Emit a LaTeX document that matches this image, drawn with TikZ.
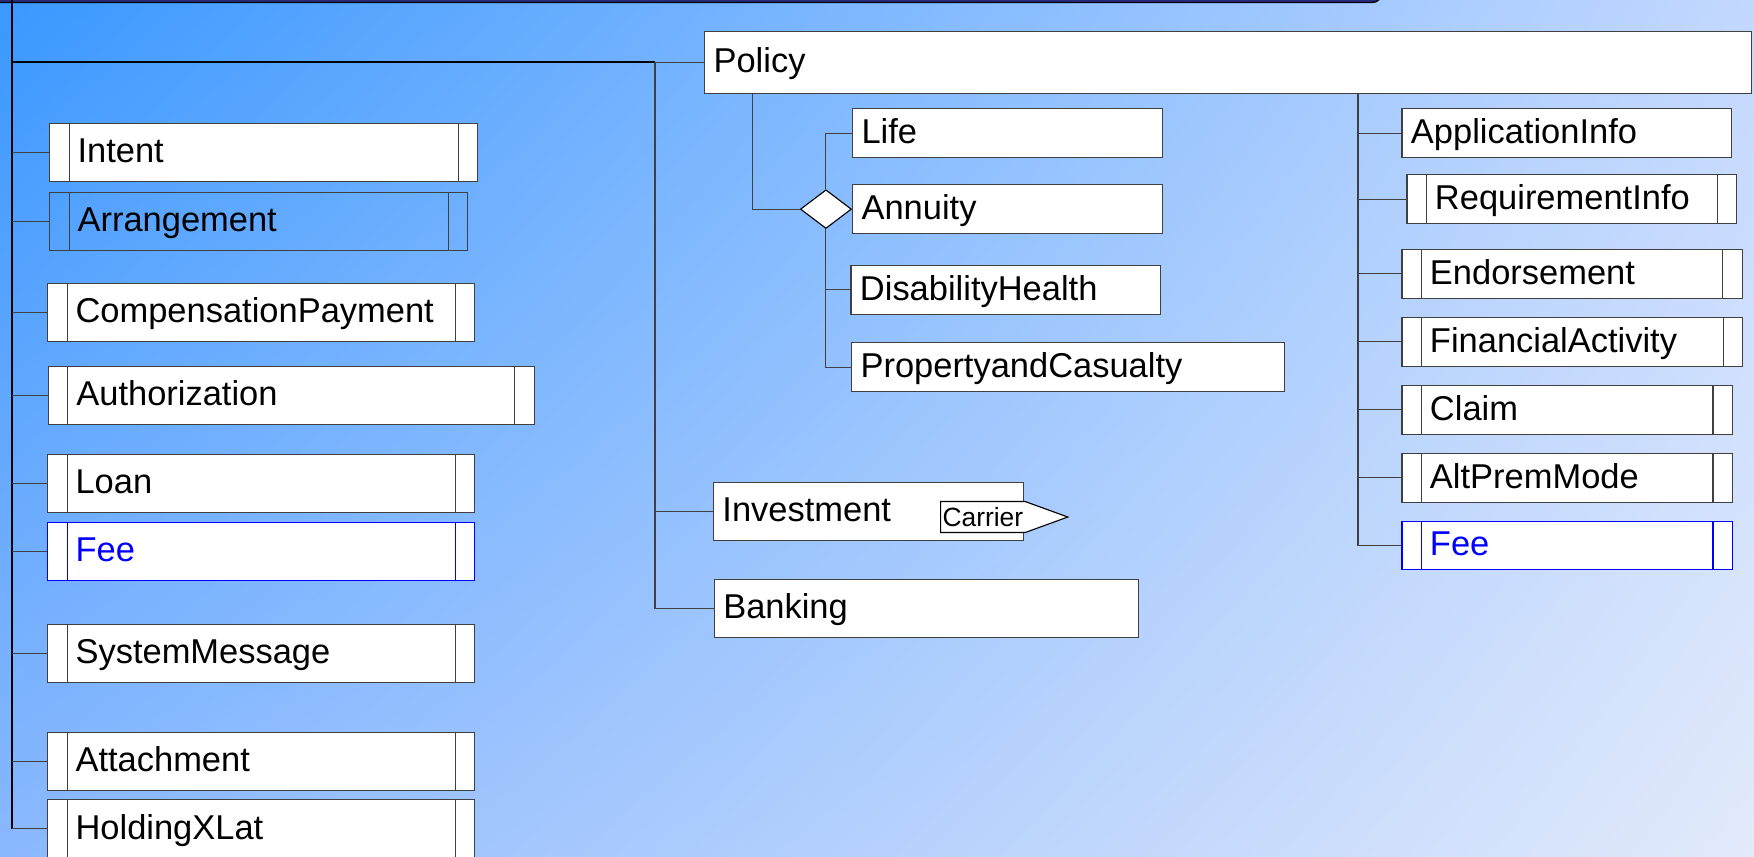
\documentclass[tikz,border=0pt]{standalone}
\usepackage{fontspec}
\setmainfont{Liberation Sans}
\usetikzlibrary{positioning, shapes.geometric, shapes.symbols, shadings, calc}
\definecolor{boxline}{RGB}{64,64,64}
\definecolor{feeblue}{RGB}{0,0,255}
\definecolor{bgtl}{RGB}{58,152,255}
\definecolor{bgtr}{RGB}{195,216,255}
\definecolor{bgbl}{RGB}{138,184,255}
\definecolor{bgbr}{RGB}{226,234,251}
\definecolor{barnavy}{RGB}{42,42,122}
\tikzset{ent/.style={draw=boxline,fill=white,line width=0.32pt,anchor=north west,inner ysep=0pt,inner xsep=0.09cm,text height=0.248cm,text depth=0.045cm,align=left,text width=#1,font=\fontsize{9.8}{12}\selectfont}}
\tikzset{bars/.style={inner xsep=0.28cm,path picture={
  \draw[#1,line width=0.32pt] ([xshift=0.195cm]path picture bounding box.north west) -- ([xshift=0.195cm]path picture bounding box.south west)
    ([xshift=-0.195cm]path picture bounding box.north east) -- ([xshift=-0.195cm]path picture bounding box.south east);}},
  bars/.default=boxline}
\tikzset{tall/.style={minimum height=0.58cm}, short/.style={minimum height=0.485cm}}
\tikzset{fee/.style={draw=feeblue,text=feeblue,bars=feeblue}}
\tikzset{choice/.style={diamond,draw=black,fill=white,line width=0.32pt,inner sep=0pt,minimum width=0.51cm,minimum height=0.387cm}}
\tikzset{tag/.style={signal,signal to=east,signal pointer angle=40,draw=black,fill=white,line width=0.32pt,inner xsep=0.02cm,inner ysep=0pt,minimum height=0.31cm,font=\fontsize{7.5}{9}\selectfont}}
\tikzset{link/.style={draw=black!75,line width=0.3pt}}
\tikzset{trunk/.style={draw=black,line width=0.6pt}}

\begin{document}
\begin{tikzpicture}[x=0.01cm,y=-0.01cm]

% Background
\useasboundingbox (0,0) rectangle (1754,856);
\shade[upper left=bgtl,upper right=bgtr,lower left=bgbl,lower right=bgbr] (0,0) rectangle (1754,856);
\draw[fill=barnavy,draw=black,rounded corners=0.1cm] (-20,-40) rectangle (1382,2.5);

% Left column
\node[ent=3.72cm,bars,tall] (intent) at (49,122.7) {Intent};
\node[ent=3.62cm,bars,tall,fill=none] (arrangement) at (49,191.7) {Arrangement};
\node[ent=3.71cm,bars,tall] (comp) at (47,283) {CompensationPayment};
\node[ent=4.297cm,bars,tall] (auth) at (47.8,366) {Authorization};
\node[ent=3.71cm,bars,tall] (loan) at (47,453.7) {Loan};
\node[ent=3.71cm,bars,tall,fee] (feeL) at (47,521.7) {Fee};
\node[ent=3.71cm,bars,tall] (sysmsg) at (47,624) {SystemMessage};
\node[ent=3.71cm,bars,tall] (attach) at (47,731.7) {Attachment};
\node[ent=3.71cm,bars,tall] (holding) at (47,799.3) {HoldingXLat};

% Policy and its kinds
\node[ent=10.285cm,minimum height=0.62cm] (policy) at (704,30.7) {Policy};
\node[ent=2.916cm,short] (life) at (852,108.3) {Life};
\node[ent=2.916cm,short] (annuity) at (852,184.3) {Annuity};
\node[ent=2.916cm,short] (dis) at (850.4,265) {DisabilityHealth};
\node[ent=4.15cm,short] (pc) at (851,342.3) {PropertyandCasualty};
\node[choice,left=0pt of annuity] (choice) {};

% Investment, Banking
\node[ent=2.92cm,minimum height=0.583cm] (invest) at (712.9,481.7) {Investment};
\node[tag,anchor=west] (carrier) at (940,517) {Carrier};
\node[ent=4.06cm,minimum height=0.583cm] (banking) at (713.7,579) {Banking};

% Right column
\node[ent=3.11cm,short] (appinfo) at (1401.4,108.3) {ApplicationInfo};
\node[ent=2.736cm,bars,short] (reqinfo) at (1406.4,174.3) {RequirementInfo};
\node[ent=2.84cm,bars,short] (endorse) at (1401.4,249) {Endorsement};
\node[ent=2.846cm,bars,short] (finact) at (1401.4,317) {FinancialActivity};
\node[ent=2.744cm,bars,short] (claim) at (1401.4,385) {Claim};
\node[ent=2.744cm,bars,short] (altprem) at (1401.4,453) {AltPremMode};
\node[ent=2.744cm,bars,short,fee] (feeR) at (1401.4,520.7) {Fee};

% Trunk lines
\coordinate (root) at (12,-10);
\coordinate (split) at (655,0);
\coordinate (pdrop) at ([xshift=0.487cm]policy.south west);
\coordinate (rdrop) at ([xshift=6.536cm]policy.south west);
\draw[trunk] (root) -- (root |- holding.west);
\draw[trunk] (root |- policy.west) -- (split |- policy.west);

% Draw lines to left column
\draw[link] (root |- intent.west) -- (intent.west);
\draw[link] (root |- arrangement.west) -- (arrangement.west);
\draw[link] (root |- comp.west) -- (comp.west);
\draw[link] (root |- auth.west) -- (auth.west);
\draw[link] (root |- loan.west) -- (loan.west);
\draw[link] (root |- feeL.west) -- (feeL.west);
\draw[link] (root |- sysmsg.west) -- (sysmsg.west);
\draw[link] (root |- attach.west) -- (attach.west);
\draw[link] (root |- holding.west) -- (holding.west);

% Draw lines to Policy, Investment, Banking
\draw[link] (split |- policy.west) -- (policy.west);
\draw[link] (split |- policy.west) |- (banking.west);
\draw[link] (split |- invest.west) -- (invest.west);

% Draw lines to kinds of Policy
\draw[link] (pdrop) |- (choice.west);
\draw[link] (choice.north) |- (life.west);
\draw[link] (choice.south) |- (pc.west);
\draw[link] (choice.south |- dis.west) -- (dis.west);

% Draw lines to right column
\draw[link] (rdrop) |- (feeR.west);
\draw[link] (rdrop |- appinfo.west) -- (appinfo.west);
\draw[link] (rdrop |- reqinfo.west) -- (reqinfo.west);
\draw[link] (rdrop |- endorse.west) -- (endorse.west);
\draw[link] (rdrop |- finact.west) -- (finact.west);
\draw[link] (rdrop |- claim.west) -- (claim.west);
\draw[link] (rdrop |- altprem.west) -- (altprem.west);

\end{tikzpicture}
\end{document}
